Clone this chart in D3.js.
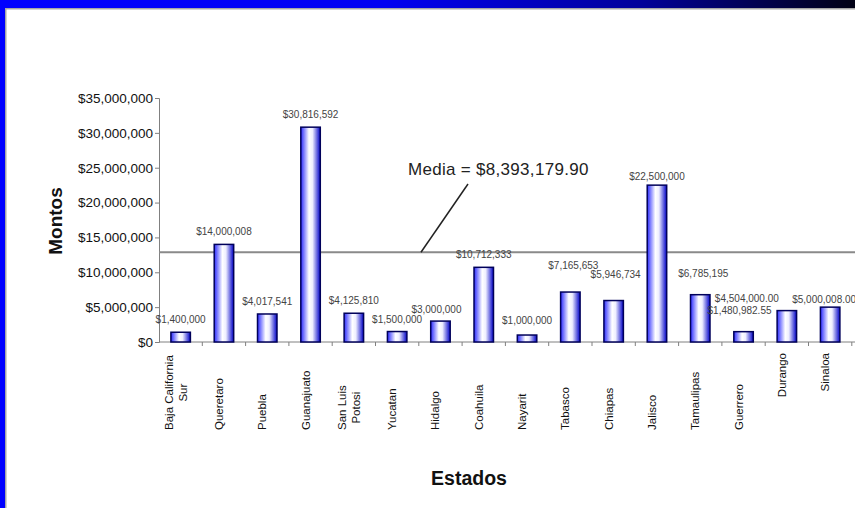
<!DOCTYPE html>
<html>
<head>
<meta charset="utf-8">
<script src="https://cdn.jsdelivr.net/npm/d3@7"></script>
<style>
body { margin: 0; background: #fff; overflow: hidden; }
svg { display: block; font-family: Arial, "Liberation Sans", sans-serif; }
</style>
</head>
<body>
<div id="chart"></div>
<script>
// datos
var estados = ["Baja California\nSur", "Queretaro", "Puebla", "Guanajuato", "San Luis\nPotosi",
  "Yucatan", "Hidalgo", "Coahuila", "Nayarit", "Tabasco", "Chiapas", "Jalisco",
  "Tamaulipas", "Guerrero", "Durango", "Sinaloa"];
var montos = [1400000, 14000008, 4017541, 30816592, 4125810, 1500000, 3000000, 10712333,
  1000000, 7165653, 5946734, 22500000, 6785195, 1480982.55, 4504000, 5000008];
var etiquetas = ["$1,400,000", "$14,000,008", "$4,017,541", "$30,816,592", "$4,125,810",
  "$1,500,000", "$3,000,000", "$10,712,333", "$1,000,000", "$7,165,653", "$5,946,734",
  "$22,500,000", "$6,785,195", "$1,480,982.55", "$4,504,000.00", "$5,000,008.00"];
var yTicks = [0, 5000000, 10000000, 15000000, 20000000, 25000000, 30000000, 35000000];
var mediaLinea = 12870000;
var mediaTexto = "Media = $8,393,179.90";

// etiquetas que Excel dejo movidas (px): dx, subida sobre la barra
var ajuste = {
  "Hidalgo": {dx: -4, up: 11.7}, "Nayarit": {dx: 0, up: 15}, "Tabasco": {dx: 3, up: 27},
  "Chiapas": {dx: 2, up: 26.5}, "Jalisco": {dx: 0, up: 9}, "Tamaulipas": {dx: 3, up: 21},
  "Guerrero": {dx: -4, up: 21.5}, "Durango": {dx: -40, up: 12.5}, "Sinaloa": {dx: -6, up: 8}
};
var arriba = {"Durango": true, "Sinaloa": true};

var W = 855, H = 508;
var svg = d3.select("#chart").append("svg").attr("width", W).attr("height", H);
var defs = svg.append("defs");

// marco azul
var gm = defs.append("linearGradient").attr("id", "marco").attr("x1", 0).attr("x2", 1).attr("y1", 0).attr("y2", 0);
gm.append("stop").attr("offset", 0).attr("stop-color", "#0000ff");
gm.append("stop").attr("offset", 0.45).attr("stop-color", "#0000f2");
gm.append("stop").attr("offset", 0.75).attr("stop-color", "#00009a");
gm.append("stop").attr("offset", 1).attr("stop-color", "#000014");

// relleno de barras
var gb = defs.append("linearGradient").attr("id", "barra").attr("x1", 0).attr("x2", 1).attr("y1", 0).attr("y2", 0);
gb.append("stop").attr("offset", 0).attr("stop-color", "#2a2aff");
gb.append("stop").attr("offset", 0.42).attr("stop-color", "#ffffff");
gb.append("stop").attr("offset", 0.6).attr("stop-color", "#eeeeff");
gb.append("stop").attr("offset", 1).attr("stop-color", "#0000c8");

svg.append("rect").attr("x", 0).attr("y", 0).attr("width", W).attr("height", 8).attr("fill", "url(#marco)");
svg.append("rect").attr("x", 0).attr("y", 0).attr("width", 5).attr("height", H).attr("fill", "#0000ff");
svg.append("rect").attr("x", 5).attr("y", 8).attr("width", W).attr("height", 1.5).attr("fill", "#a5a5a5");
svg.append("rect").attr("x", 5).attr("y", 8).attr("width", 1.5).attr("height", H).attr("fill", "#a5a5a5");

// escalas
var x0 = 159, y0 = 342;
var x = d3.scaleBand()
  .domain(estados)
  .range([x0, x0 + 16 * 43.3])
  .paddingInner(0.55)
  .paddingOuter(0.275);
var y = d3.scaleLinear()
  .domain([0, 35000000])
  .range([y0, 98]);

// eje y
var gy = svg.append("g")
  .attr("transform", "translate(" + x0 + ",0)")
  .call(d3.axisLeft(y).tickValues(yTicks).tickSize(4).tickPadding(2).tickFormat(d3.format("$,.0f")));
gy.select(".domain").attr("stroke", "#808080");
gy.selectAll(".tick line").attr("stroke", "#808080");
gy.selectAll(".tick text").attr("fill", "#111").style("font-size", "13.5px")
  .style("font-family", "Arial, 'Liberation Sans', sans-serif");

// eje x
svg.append("line").attr("x1", x0).attr("x2", W).attr("y1", y0).attr("y2", y0).attr("stroke", "#808080");
svg.selectAll(".xtick")
  .data(estados)
  .enter().append("line")
  .attr("class", "xtick")
  .attr("x1", d => x(d) + x.bandwidth() / 2 + x.step() / 2)
  .attr("x2", d => x(d) + x.bandwidth() / 2 + x.step() / 2)
  .attr("y1", y0).attr("y2", y0 + 4)
  .attr("stroke", "#808080");

// linea de la media
svg.append("line")
  .attr("x1", x0).attr("x2", W)
  .attr("y1", y(mediaLinea)).attr("y2", y(mediaLinea))
  .attr("stroke", "#8a8a8a").attr("stroke-width", 2);

// barras
svg.selectAll(".bar")
  .data(montos)
  .enter().append("rect")
  .attr("class", "bar")
  .attr("x", (d, i) => x(estados[i]))
  .attr("width", x.bandwidth())
  .attr("y", d => y(d))
  .attr("height", d => y0 - y(d))
  .attr("fill", "url(#barra)")
  .attr("stroke", "#00005a")
  .attr("stroke-width", 1.5);

// etiquetas de valor
svg.selectAll(".valor")
  .data(etiquetas)
  .enter().append("text")
  .attr("class", "valor")
  .attr("x", (d, i) => x(estados[i]) + x.bandwidth() / 2 + (ajuste[estados[i].split("\n")[0]] || {dx: 0}).dx)
  .attr("y", (d, i) => y(montos[i]) - (ajuste[estados[i].split("\n")[0]] || {up: 12.5}).up + 3.5)
  .attr("text-anchor", "middle")
  .attr("fill", "#444")
  .style("font-size", "10px")
  .text(d => d);

// nombres de estados (verticales)
estados.forEach(function(e) {
  var lineas = e.split("\n");
  var cx = x(e) + x.bandwidth() / 2 - 6;
  var g = svg.append("g");
  var ts = lineas.map(function(l) {
    return g.append("text")
      .attr("fill", "#111")
      .style("font-size", "11.5px")
      .text(l);
  });
  var largo = d3.max(ts, t => t.node().getComputedTextLength());
  ts.forEach(function(t, j) {
    var bx = cx + 5 + (j - (lineas.length - 1) / 2) * 14;
    var cy = arriba[e] ? 353 + largo / 2 : 430 - largo / 2;
    t.attr("text-anchor", "middle")
      .attr("transform", "translate(" + bx + "," + cy + ") rotate(-90)");
  });
});

// anotacion de la media
svg.append("line")
  .attr("x1", 468).attr("y1", 184)
  .attr("x2", 421).attr("y2", y(mediaLinea))
  .attr("stroke", "#222").attr("stroke-width", 1.5);
svg.append("text")
  .attr("x", 408).attr("y", 175)
  .attr("fill", "#222")
  .style("font-size", "17px")
  .style("letter-spacing", "0.3px")
  .text(mediaTexto);

// titulos de ejes
svg.append("text")
  .attr("transform", "translate(62,221) rotate(-90)")
  .attr("text-anchor", "middle")
  .style("font-size", "19px").style("font-weight", "bold")
  .attr("fill", "#111")
  .text("Montos");
svg.append("text")
  .attr("x", 469).attr("y", 485)
  .attr("text-anchor", "middle")
  .style("font-size", "19.5px").style("font-weight", "bold")
  .attr("fill", "#111")
  .text("Estados");
</script>
</body>
</html>
